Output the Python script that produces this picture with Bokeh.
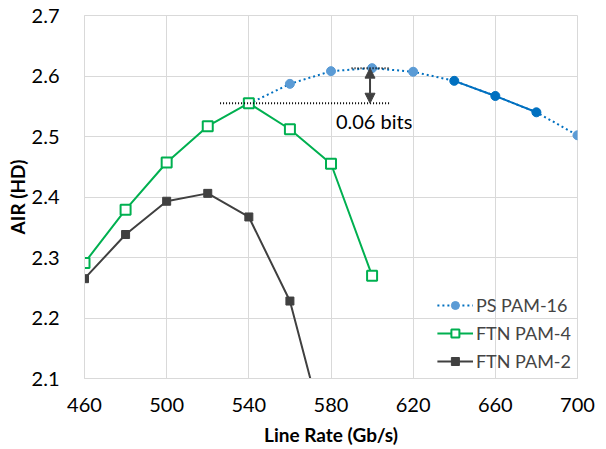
from bokeh.plotting import figure
from bokeh.models import Range1d, Arrow, NormalHead, Label, Legend, LegendItem, FixedTicker
from bokeh.embed import file_html
from bokeh.resources import INLINE

# ---- data ----
x_ps = [540, 560, 580, 600, 620, 640, 660, 680, 700]
y_ps = [2.554, 2.587, 2.608, 2.613, 2.607, 2.592, 2.567, 2.540, 2.502]
ps_solid_idx = [5, 6, 7]  # 640-680 drawn solid / dark markers

x_ftn4 = [460, 480, 500, 520, 540, 560, 580, 600]
y_ftn4 = [2.291, 2.379, 2.457, 2.517, 2.555, 2.512, 2.455, 2.270]

x_ftn2 = [460, 480, 500, 520, 540, 560, 580]
y_ftn2 = [2.265, 2.338, 2.393, 2.406, 2.367, 2.228, 1.97]

x_ticks = [460, 500, 540, 580, 620, 660, 700]
y_ticks = [2.1, 2.2, 2.3, 2.4, 2.5, 2.6, 2.7]

gap_label = "0.06 bits"
gap_lo_x = [526, 609]
gap_hi_x = [590, 609]
arrow_x = 599
label_y = 2.526

FONT = "Lato"
LIGHT_BLUE = "#5B9BD5"
DARK_BLUE = "#0070C0"
GREEN = "#00B050"
GRAY = "#404040"

p = figure(width=606, height=449, output_backend="svg", toolbar_location=None,
           x_range=Range1d(460, 700), y_range=Range1d(2.1, 2.7),
           min_border_left=84, min_border_right=29, min_border_top=15, min_border_bottom=71)

p.xaxis.ticker = FixedTicker(ticks=x_ticks)
p.yaxis.ticker = FixedTicker(ticks=y_ticks)
p.yaxis.formatter.use_scientific = False
for ax in (p.xaxis, p.yaxis):
    ax.major_tick_line_color = None
    ax.minor_tick_line_color = None
    ax.axis_line_color = "#D9D9D9"
    ax.major_label_text_font = FONT
    ax.major_label_text_font_size = "20px"
    ax.major_label_text_color = "#000000"
    ax.axis_label_text_font = FONT
    ax.axis_label_text_font_size = "19px"
    ax.axis_label_text_font_style = "bold"
    ax.axis_label_text_color = "#000000"
p.xaxis.axis_label = "Line Rate (Gb/s)"
p.yaxis.axis_label = "AIR (HD)"
p.xaxis.major_label_standoff = 13
p.yaxis.major_label_standoff = 19
p.xaxis.axis_label_standoff = 8
p.yaxis.axis_label_standoff = 0
p.grid.grid_line_color = "#D9D9D9"
p.outline_line_color = "#D9D9D9"

# PS PAM-16
ps_dot = p.line(x_ps, y_ps, line_color=DARK_BLUE, line_width=2, line_dash="2 3")
p.line([x_ps[i] for i in ps_solid_idx], [y_ps[i] for i in ps_solid_idx],
       line_color=DARK_BLUE, line_width=2)
light_idx = [i for i in range(len(x_ps)) if i not in ps_solid_idx]
ps_pts = p.scatter([x_ps[i] for i in light_idx], [y_ps[i] for i in light_idx],
                   marker="circle", size=9, fill_color=LIGHT_BLUE, line_color=LIGHT_BLUE)
p.scatter([x_ps[i] for i in ps_solid_idx], [y_ps[i] for i in ps_solid_idx],
          marker="circle", size=9, fill_color=DARK_BLUE, line_color=DARK_BLUE)

# FTN PAM-4
f4_line = p.line(x_ftn4, y_ftn4, line_color=GREEN, line_width=2)
f4_pts = p.scatter(x_ftn4, y_ftn4, marker="square", size=10, fill_color="white",
                   line_color=GREEN, line_width=2)

# FTN PAM-2
f2_line = p.line(x_ftn2, y_ftn2, line_color=GRAY, line_width=2)
f2_pts = p.scatter(x_ftn2, y_ftn2, marker="square", size=8, fill_color=GRAY, line_color=GRAY)

# annotation
y_lo = max(y_ftn4)
y_hi = max(y_ps)
p.line(gap_lo_x, [y_lo, y_lo], line_color="black", line_width=2, line_dash="1 2")
p.line(gap_hi_x, [y_hi, y_hi], line_color="black", line_width=2, line_dash="1 2")
p.add_layout(Arrow(start=NormalHead(size=10, fill_color=GRAY, line_color=GRAY),
                   end=NormalHead(size=10, fill_color=GRAY, line_color=GRAY),
                   x_start=arrow_x, y_start=y_lo, x_end=arrow_x, y_end=y_hi,
                   line_color=GRAY, line_width=2))
p.add_layout(Label(x=arrow_x + 2, y=label_y, text=gap_label, text_font=FONT,
                   text_font_size="20px", text_align="center", text_baseline="middle",
                   text_color="black"))

legend = Legend(items=[
    LegendItem(label="PS PAM-16", renderers=[ps_dot, ps_pts]),
    LegendItem(label="FTN PAM-4", renderers=[f4_line, f4_pts]),
    LegendItem(label="FTN PAM-2", renderers=[f2_line, f2_pts]),
], location="bottom_right")
legend.label_text_font = FONT
legend.label_text_font_size = "18px"
legend.label_standoff = 3
legend.glyph_width = 36
legend.glyph_height = 20
legend.spacing = 6
legend.padding = 0
legend.margin = 6
legend.border_line_color = None
legend.background_fill_alpha = 0
p.add_layout(legend)

open("out.html", "w").write(file_html(p, INLINE))
